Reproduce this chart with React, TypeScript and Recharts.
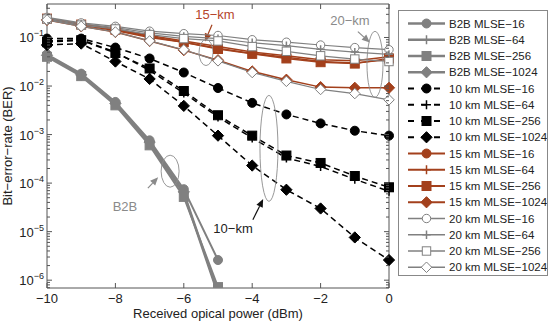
import { LineChart, Line, XAxis, YAxis, ReferenceDot, ReferenceLine } from "recharts";

const FONT = "'Liberation Sans', Arial, sans-serif";
const GRAY = "#808080";
const BLACK = "#000000";
const RED = "#a3401c";

const powers = [-10, -9, -8, -7, -6, -5, -4, -3, -2, -1, 0];
const xTicks = [-10, -8, -6, -4, -2, 0];
const yMin = 6.9e-7;
const yMax = 0.49;

// B2B only measured from -10 to -5 dBm
const b2b16 = [0.045, 0.018, 0.0047, 7.6e-4, 7.5e-5, 2.6e-6];
const b2b64 = [0.042, 0.017, 0.0043, 6.6e-4, 6.0e-5, 5.0e-7];
const b2b256 = [0.04, 0.016, 0.004, 6.0e-4, 5.2e-5, 7.2e-7];
const b2b1024 = [0.043, 0.017, 0.0044, 7.0e-4, 6.6e-5, 5.5e-7];

const km10_16 = [0.095, 0.095, 0.062, 0.037, 0.019, 0.0091, 0.0045, 0.0026, 0.0017, 0.0012, 9.5e-4];
const km10_64 = [0.085, 0.09, 0.05, 0.021, 0.0072, 0.0023, 8.5e-4, 3.3e-4, 2.2e-4, 1.2e-4, 6.8e-5];
const km10_256 = [0.08, 0.088, 0.048, 0.023, 0.0079, 0.0025, 9.5e-4, 3.7e-4, 2.6e-4, 1.4e-4, 8.2e-5];
const km10_1024 = [0.07, 0.075, 0.032, 0.014, 0.0039, 9.5e-4, 2.3e-4, 7.3e-5, 3.0e-5, 7.6e-6, 2.6e-6];

const km15_16 = [0.25, 0.19, 0.15, 0.11, 0.085, 0.065, 0.05, 0.042, 0.035, 0.033, 0.04];
const km15_64 = [0.24, 0.18, 0.14, 0.1, 0.08, 0.06, 0.047, 0.039, 0.032, 0.03, 0.035];
const km15_256 = [0.245, 0.185, 0.145, 0.105, 0.08, 0.058, 0.046, 0.037, 0.031, 0.029, 0.037];
const km15_1024 = [0.23, 0.17, 0.13, 0.085, 0.055, 0.034, 0.02, 0.0135, 0.0095, 0.0092, 0.0092];

const km20_16 = [0.26, 0.2, 0.17, 0.135, 0.12, 0.11, 0.09, 0.08, 0.07, 0.062, 0.056];
const km20_64 = [0.25, 0.19, 0.16, 0.125, 0.105, 0.095, 0.078, 0.068, 0.057, 0.05, 0.045];
const km20_256 = [0.24, 0.18, 0.15, 0.115, 0.095, 0.085, 0.065, 0.052, 0.042, 0.036, 0.032];
const km20_1024 = [0.23, 0.17, 0.13, 0.085, 0.056, 0.033, 0.019, 0.0125, 0.0085, 0.007, 0.0052];

type Shape = "circle" | "plus" | "square" | "diamond";
type Series = {
  key: string;
  name: string;
  values: number[];
  color: string;
  fill: string;
  shape: Shape;
  width: number;
  dash?: string;
  size: number;
};

const series: Series[] = [
  { key: "b16", name: "B2B MLSE−16", values: b2b16, color: GRAY, fill: GRAY, shape: "circle", width: 2, size: 4.5 },
  { key: "b64", name: "B2B MLSE−64", values: b2b64, color: GRAY, fill: GRAY, shape: "plus", width: 2, size: 4.5 },
  { key: "b256", name: "B2B MLSE−256", values: b2b256, color: GRAY, fill: GRAY, shape: "square", width: 2, size: 4.5 },
  { key: "b1024", name: "B2B MLSE−1024", values: b2b1024, color: GRAY, fill: GRAY, shape: "diamond", width: 2, size: 4.5 },
  { key: "t16", name: "10 km MLSE−16", values: km10_16, color: BLACK, fill: BLACK, shape: "circle", width: 1.5, dash: "6 4", size: 4.5 },
  { key: "t64", name: "10 km MLSE−64", values: km10_64, color: BLACK, fill: BLACK, shape: "plus", width: 1.5, dash: "6 4", size: 4.5 },
  { key: "t256", name: "10 km MLSE−256", values: km10_256, color: BLACK, fill: BLACK, shape: "square", width: 1.5, dash: "6 4", size: 4.5 },
  { key: "t1024", name: "10 km MLSE−1024", values: km10_1024, color: BLACK, fill: BLACK, shape: "diamond", width: 1.5, dash: "6 4", size: 4.5 },
  { key: "f16", name: "15 km MLSE−16", values: km15_16, color: RED, fill: RED, shape: "circle", width: 1.5, size: 4.5 },
  { key: "f64", name: "15 km MLSE−64", values: km15_64, color: RED, fill: RED, shape: "plus", width: 1.5, size: 4.5 },
  { key: "f256", name: "15 km MLSE−256", values: km15_256, color: RED, fill: RED, shape: "square", width: 1.5, size: 4.5 },
  { key: "f1024", name: "15 km MLSE−1024", values: km15_1024, color: RED, fill: RED, shape: "diamond", width: 1.5, size: 4.5 },
  { key: "w16", name: "20 km MLSE−16", values: km20_16, color: GRAY, fill: "#fff", shape: "circle", width: 1.2, size: 4.2 },
  { key: "w64", name: "20 km MLSE−64", values: km20_64, color: GRAY, fill: "#fff", shape: "plus", width: 1.2, size: 4.2 },
  { key: "w256", name: "20 km MLSE−256", values: km20_256, color: GRAY, fill: "#fff", shape: "square", width: 1.2, size: 4.2 },
  { key: "w1024", name: "20 km MLSE−1024", values: km20_1024, color: GRAY, fill: "#fff", shape: "diamond", width: 1.2, size: 4.2 },
];

const data = powers.map((p, i) => {
  const row: Record<string, number> = { p };
  series.forEach((s) => {
    if (i < s.values.length) row[s.key] = s.values[i];
  });
  return row;
});

// log ticks: decades labelled, 2..9 as minor marks
const yTicks: number[] = [];
for (let e = -7; e <= 0; e++) {
  for (let k = 1; k <= 9; k++) {
    const v = k * Math.pow(10, e);
    if (v >= yMin && v <= yMax) yTicks.push(v);
  }
}
const isMajor = (v: number) => Math.abs(Math.log10(v) - Math.round(Math.log10(v))) < 1e-6;

function Marker({ cx, cy, shape, stroke, fill, size }: any) {
  if (cx == null || cy == null || isNaN(cx) || isNaN(cy)) return null;
  if (shape === "circle") return <circle cx={cx} cy={cy} r={size} fill={fill} stroke={stroke} strokeWidth={1} />;
  if (shape === "square")
    return <rect x={cx - size} y={cy - size} width={size * 2} height={size * 2} fill={fill} stroke={stroke} strokeWidth={1} />;
  if (shape === "diamond") {
    const d = size * 1.25;
    return (
      <polygon
        points={`${cx},${cy - d} ${cx + d},${cy} ${cx},${cy + d} ${cx - d},${cy}`}
        fill={fill}
        stroke={stroke}
        strokeWidth={1}
      />
    );
  }
  return (
    <path d={`M${cx - size},${cy}H${cx + size}M${cx},${cy - size}V${cy + size}`} stroke={stroke} strokeWidth={1.5} fill="none" />
  );
}

const AXIS = "#555";

function LeftTick({ x, y, payload }: any) {
  const v = payload.value;
  const major = isMajor(v);
  const len = major ? 5 : 3;
  return (
    <g>
      <line x1={x} x2={x + len} y1={y} y2={y} stroke={AXIS} />
      {major && (
        <text x={x - 3} y={y + 5} textAnchor="end" fontSize={13} fill="#222" fontFamily={FONT}>
          <tspan>10</tspan>
          <tspan dy={-6} fontSize={9}>{`−${Math.round(-Math.log10(v))}`}</tspan>
        </text>
      )}
    </g>
  );
}

function RightTick({ x, y, payload }: any) {
  const len = isMajor(payload.value) ? 5 : 3;
  return <line x1={x} x2={x - len} y1={y} y2={y} stroke={AXIS} />;
}

function BottomTick({ x, y, payload }: any) {
  const v = payload.value;
  return (
    <g>
      <line x1={x} x2={x} y1={y} y2={y - 5} stroke={AXIS} />
      <text x={x} y={y + 15} textAnchor="middle" fontSize={13} fill="#222" fontFamily={FONT}>
        {v < 0 ? `−${-v}` : `${v}`}
      </text>
    </g>
  );
}

function TopTick({ x, y }: any) {
  return <line x1={x} x2={x} y1={y} y2={y + 5} stroke={AXIS} />;
}

const ellipses = [
  { x: -5.35, y: 0.049, rx: 7, ry: 13 },
  { x: -0.41, y: 0.028, rx: 8, ry: 33 },
  { x: -3.51, y: 5.2e-4, rx: 9, ry: 53 },
  { x: -6.4, y: 1.76e-4, rx: 9, ry: 16 },
];
const notes = [
  { text: "15−km", x: -5.09, y: 0.31, color: "#b5452c" },
  { text: "20−km", x: -1.14, y: 0.233, color: "#8a8a8a" },
  { text: "10−km", x: -4.56, y: 1.2e-5, color: "#222" },
  { text: "B2B", x: -7.72, y: 3.4e-5, color: "#8a8a8a" },
];
const arrows = [
  { from: { x: -5.175, y: 0.184 }, to: { x: -5.38, y: 0.083 }, color: "#a3401c" },
  { from: { x: -0.91, y: 0.132 }, to: { x: -0.56, y: 0.079 }, color: "#8a8a8a" },
  { from: { x: -3.98, y: 1.76e-5 }, to: { x: -3.68, y: 4.7e-5 }, color: "#111" },
  { from: { x: -7.05, y: 7.9e-5 }, to: { x: -6.75, y: 1.32e-4 }, color: "#8a8a8a" },
];

function Arrow({ x1, y1, x2, y2, color }: any) {
  const a = Math.atan2(y2 - y1, x2 - x1);
  const L = 8;
  const w = 3.5;
  const bx = x2 - L * Math.cos(a);
  const by = y2 - L * Math.sin(a);
  const px = -Math.sin(a) * w;
  const py = Math.cos(a) * w;
  return (
    <g>
      <line x1={x1} y1={y1} x2={bx} y2={by} stroke={color} strokeWidth={1.2} />
      <polygon points={`${x2},${y2} ${bx + px},${by + py} ${bx - px},${by - py}`} fill={color} />
    </g>
  );
}

function Legend() {
  const rowH = 16.25;
  return (
    <svg
      width={150}
      height={266}
      style={{ position: "absolute", left: 398, top: 10, background: "#fff", border: "1px solid #888", boxSizing: "border-box" }}
    >
      {series.map((s, i) => {
        const y = 12.5 + i * rowH;
        return (
          <g key={s.key}>
            <line x1={9} x2={46} y1={y} y2={y} stroke={s.color} strokeWidth={s.width + 0.3} strokeDasharray={s.dash ? "6 7" : undefined} />
            <Marker cx={27.5} cy={y} shape={s.shape} stroke={s.color} fill={s.fill} size={s.size} />
            <text x={50} y={y + 4} fontSize={11.5} fill="#222" fontFamily={FONT}>
              {s.name}
            </text>
          </g>
        );
      })}
    </svg>
  );
}

export default function App() {
  return (
    <div style={{ position: "absolute", left: 0, top: 0, width: 550, height: 327, background: "#fff", fontFamily: FONT }}>
      <LineChart width={550} height={327} data={data} margin={{ top: 3, right: 160, left: 0, bottom: 0 }}>
        <XAxis
          dataKey="p"
          type="number"
          domain={[-10, 0]}
          ticks={xTicks}
          interval={0}
          height={39}
          stroke={AXIS}
          tickLine={false}
          tickSize={0}
          tickMargin={0}
          tick={<BottomTick />}
          label={(props: any) => {
            const vb = props.viewBox;
            return (
              <text x={vb.x + vb.width / 2} y={vb.y + 30} textAnchor="middle" fontSize={13} fill="#222" fontFamily={FONT}>
                Received opical power (dBm)
              </text>
            );
          }}
        />
        <XAxis
          xAxisId="t"
          orientation="top"
          dataKey="p"
          type="number"
          domain={[-10, 0]}
          ticks={xTicks}
          interval={0}
          height={1}
          stroke={AXIS}
          tickLine={false}
          tickSize={0}
          tickMargin={0}
          tick={<TopTick />}
        />
        <YAxis
          scale="log"
          type="number"
          domain={[yMin, yMax]}
          allowDataOverflow
          ticks={yTicks}
          interval={0}
          width={47}
          stroke={AXIS}
          tickLine={false}
          tickSize={0}
          tickMargin={0}
          tick={<LeftTick />}
          label={(props: any) => {
            const vb = props.viewBox;
            const cx = 12;
            const cy = vb.y + vb.height / 2;
            return (
              <text x={cx} y={cy} transform={`rotate(-90, ${cx}, ${cy})`} textAnchor="middle" fontSize={13} fill="#222" fontFamily={FONT}>
                Bit−error−rate (BER)
              </text>
            );
          }}
        />
        <YAxis
          yAxisId="r"
          orientation="right"
          scale="log"
          type="number"
          domain={[yMin, yMax]}
          allowDataOverflow
          ticks={yTicks}
          interval={0}
          width={1}
          stroke={AXIS}
          tickLine={false}
          tickSize={0}
          tickMargin={0}
          tick={<RightTick />}
        />
        {ellipses.map((e, i) => (
          <ReferenceDot
            key={`e${i}`}
            x={e.x}
            y={e.y}
            r={1}
            shape={(p: any) => <ellipse cx={p.cx} cy={p.cy} rx={e.rx} ry={e.ry} fill="none" stroke="#8c8c8c" strokeWidth={0.9} />}
          />
        ))}
        {arrows.map((a, i) => (
          <ReferenceLine
            key={`a${i}`}
            segment={[a.from, a.to]}
            shape={(p: any) => <Arrow x1={p.x1} y1={p.y1} x2={p.x2} y2={p.y2} color={a.color} />}
          />
        ))}
        {notes.map((n, i) => (
          <ReferenceDot
            key={`n${i}`}
            x={n.x}
            y={n.y}
            r={1}
            shape={(p: any) => (
              <text x={p.cx} y={p.cy + 5} textAnchor="middle" fontSize={13} fill={n.color} fontFamily={FONT}>
                {n.text}
              </text>
            )}
          />
        ))}
        {series.map((s) => (
          <Line
            key={s.key}
            dataKey={s.key}
            name={s.name}
            stroke={s.color}
            strokeWidth={s.width}
            strokeDasharray={s.dash}
            isAnimationActive={false}
            dot={(props: any) => (
              <Marker
                key={`${s.key}-${props.index}`}
                cx={props.cx}
                cy={props.cy}
                shape={s.shape}
                stroke={s.color}
                fill={s.fill}
                size={s.size}
              />
            )}
            activeDot={false}
          />
        ))}
      </LineChart>
      <Legend />
    </div>
  );
}
